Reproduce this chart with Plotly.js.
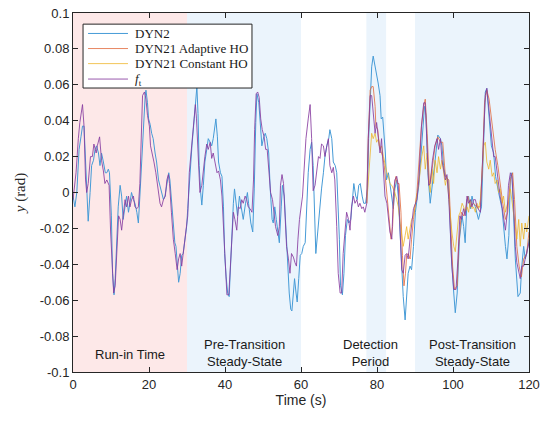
<!DOCTYPE html>
<html><head><meta charset="utf-8">
<script src="https://cdn.plot.ly/plotly-3.0.1.min.js"></script>
<style>body{margin:0;background:#fff}#plot{width:547px;height:423px}</style>
</head><body><div id="plot"></div>
<script>
// f_t (target)
const ftT = [0,0.8,1.4,1.8,2.5,2.9,3.3,3.6,4.0,4.6,5.1,5.5,6.1,6.4,7.0,7.5,8.0,8.4,8.9,9.5,9.9,10.4,10.7,11.1,11.6,12.0,12.4,12.8,13.2,13.7,14.1,14.6,15.0,15.4,15.9,16.3,16.8,17.2,17.6,18.0,18.3,18.8,19.2,19.6,20.1,20.4,20.8,21.3,21.8,22.2,22.5,22.9,23.3,23.8,24.3,24.7,25.1,25.4,25.9,26.4,26.9,27.4,27.8,28.2,28.6,29.0,29.5,29.9,
30.2,30.6,31.1,31.5,31.9,32.2,32.5,33.0,33.4,33.9,34.3,34.7,35.2,35.6,36.1,36.5,36.9,37.4,37.9,38.3,38.8,39.2,39.7,40.1,40.5,41.0,41.4,41.9,42.2,42.6,43.1,43.5,44.0,44.4,44.8,45.3,45.7,46.1,46.6,47.1,47.5,47.8,48.2,48.6,49.0,49.4,49.8,50.3,50.7,51.1,51.6,52.0,52.5,52.9,53.3,53.9,54.3,54.6,55.0,55.4,55.8,56.2,56.7,57.1,57.5,58.0,58.4,58.8,59.2,59.6,
60.4,60.8,61.3,61.9,62.4,62.8,63.2,63.7,64.1,64.6,65.0,65.4,65.9,66.3,66.8,67.2,67.6,68.1,68.5,68.9,69.4,69.8,70.3,70.7,71.1,71.6,72.0,72.5,72.9,73.3,73.8,74.2,74.7,75.1,75.5,76.0,76.4,76.8,77.3,77.7,78.2,78.6,79.0,79.5,79.9,80.4,80.8,81.2,81.7,82.1,82.6,83.0,83.4,83.9,84.3,84.7,85.2,85.6,86.1,86.5,86.9,87.4,87.8,88.2,88.7,89.6,
90.5,91.0,91.7,92.3,92.7,93.2,93.6,94.0,94.6,95.2,95.8,96.2,96.7,97.1,97.5,98.0,98.4,98.9,99.3,99.7,100.2,100.8,101.3,101.8,102.2,102.8,103.2,103.7,104.1,104.6,105.0,105.4,105.9,106.3,107.2,107.6,108.1,108.5,108.9,109.4,109.8,110.7,111.1,111.6,112.0,112.4,112.9,113.3,113.8,114.2,114.6,115.1,115.5,115.9,116.4,116.8,117.3,117.7,118.1,118.6,119.0,119.4,120.0];
const ftY = [-0.004,0.011,0.030,0.039,0.049,0.037,0.007,0.000,0.005,0.020,0.020,0.027,0.022,0.026,0.031,0.018,0.012,0.005,0.007,0.004,-0.022,-0.047,-0.056,-0.052,-0.026,-0.013,-0.015,-0.021,-0.013,-0.004,-0.008,-0.002,-0.008,-0.004,-0.002,-0.008,-0.009,-0.008,0.005,0.033,0.054,0.056,0.052,0.043,0.037,0.026,0.021,0.017,0.011,0.004,-0.002,-0.006,-0.008,-0.004,-0.002,0.007,0.010,0.005,-0.011,-0.026,-0.034,-0.043,-0.037,-0.034,-0.041,-0.034,-0.024,-0.015,
-0.013,0.011,0.024,0.033,0.043,0.049,0.041,0.015,0.000,0.004,0.013,0.020,0.027,0.024,0.028,0.019,0.022,0.017,0.011,0.012,0.007,-0.002,-0.026,-0.047,-0.057,-0.057,-0.041,-0.019,-0.011,-0.015,-0.021,-0.008,-0.009,-0.004,-0.006,-0.002,-0.004,-0.008,-0.009,-0.011,0.007,0.035,0.055,0.056,0.053,0.041,0.035,0.031,0.024,0.024,0.011,0.000,-0.004,-0.013,-0.019,-0.024,-0.019,0.004,0.010,0.005,-0.013,-0.030,-0.037,-0.045,-0.034,-0.036,-0.039,-0.041,-0.026,-0.015,
-0.002,0.011,0.030,0.041,0.049,0.030,0.001,0.004,0.011,0.020,0.019,0.027,0.026,0.020,0.026,0.030,0.015,0.011,0.014,0.007,-0.019,-0.045,-0.056,-0.056,-0.034,-0.019,-0.011,-0.015,-0.021,-0.008,-0.002,-0.006,-0.004,-0.008,-0.006,-0.009,-0.008,-0.011,-0.006,0.030,0.054,0.054,0.043,0.033,0.039,0.031,0.022,0.030,0.015,-0.002,-0.006,-0.015,-0.022,-0.026,-0.002,0.007,0.009,0.004,-0.021,-0.043,-0.045,-0.035,-0.034,-0.037,-0.026,-0.009,
-0.004,0.007,0.037,0.050,0.050,0.028,0.004,0.005,0.018,0.026,0.030,0.024,0.030,0.018,0.013,0.007,0.010,-0.004,-0.022,-0.041,-0.054,-0.054,-0.037,-0.013,-0.015,-0.009,-0.013,-0.002,-0.006,-0.004,-0.008,-0.004,-0.004,-0.008,-0.011,0.007,0.037,0.054,0.058,0.048,0.037,0.020,0.020,0.011,0.004,-0.002,-0.008,-0.013,-0.021,-0.013,0.004,0.011,0.009,-0.004,-0.030,-0.039,-0.045,-0.048,-0.041,-0.041,-0.037,-0.033,-0.028];

// DYN2
const dyn2T = [0,0.5,1.0,1.6,2.1,2.5,2.9,3.2,3.6,4.0,4.5,4.9,5.4,5.8,6.2,6.7,7.1,7.5,8.0,8.5,8.9,9.3,9.6,10.1,10.4,10.8,11.1,11.5,11.9,12.4,12.8,13.2,13.7,14.1,14.6,15.0,15.4,15.9,16.3,16.8,17.2,17.6,18.1,18.5,19.0,19.2,19.6,19.9,20.3,20.7,21.1,21.6,22.0,22.5,22.9,23.3,23.8,24.2,24.6,25.2,25.5,26.0,26.4,26.8,27.1,27.5,27.8,28.2,28.6,29.0,29.5,29.9,
30.2,30.8,31.3,31.9,32.4,32.6,32.9,33.2,33.6,33.9,34.3,34.7,35.2,35.6,36.1,36.5,36.9,37.4,37.6,38.0,38.3,38.8,39.2,39.6,39.9,40.3,40.7,41.1,41.5,41.9,42.2,42.5,42.9,43.3,43.8,44.2,44.8,45.4,45.9,46.2,46.8,47.3,47.7,48.1,48.4,48.9,49.3,49.7,50.2,50.6,51.0,51.5,51.9,52.4,52.7,53.1,53.5,54.0,54.3,54.8,55.1,55.6,56.0,56.4,56.9,57.3,57.6,58.0,58.3,58.7,59.0,59.4,59.8,
60.2,60.6,61.1,61.5,61.9,62.4,62.8,63.2,63.6,63.9,64.4,64.8,65.4,65.9,66.3,66.8,67.3,67.6,68.1,68.5,69.0,69.4,69.7,70.1,70.4,70.9,71.3,71.7,72.2,72.6,73.1,73.5,73.9,74.4,74.8,75.2,75.6,76.1,76.5,77.0,77.5,77.8,78.2,78.6,79.0,79.5,79.9,80.3,80.8,81.1,81.5,81.8,82.2,82.5,83.0,83.4,83.9,84.3,84.7,85.2,85.6,86.1,86.5,86.9,87.4,87.8,88.2,88.7,89.1,89.6,
90.1,91.0,91.8,92.5,92.9,93.4,94.0,94.6,95.3,96.0,96.7,97.1,97.5,98.0,98.7,99.0,99.6,100.2,100.6,101.1,101.7,102.4,102.8,103.2,103.7,104.1,104.6,105.0,105.4,105.9,106.7,107.5,108.1,108.5,108.9,109.4,110.1,110.7,111.2,112.0,112.9,113.8,114.2,114.7,115.1,115.5,115.9,116.4,117.1,117.7,118.1,118.6,119.0,119.4,120.0];
const dyn2Y = [-0.002,-0.008,0.000,0.024,0.031,0.037,0.037,0.022,-0.002,-0.016,0.000,0.015,0.018,0.024,0.026,0.022,0.015,0.022,0.017,0.011,0.011,0.013,0.011,-0.013,-0.045,-0.057,-0.048,-0.030,-0.008,0.004,-0.002,-0.015,-0.006,-0.002,-0.011,-0.004,0.000,-0.004,-0.006,-0.011,-0.017,-0.002,0.018,0.041,0.054,0.057,0.050,0.041,0.038,0.033,0.030,0.022,0.017,0.007,0.004,0.000,-0.004,-0.002,0.004,0.011,0.007,-0.008,-0.019,-0.028,-0.030,-0.045,-0.050,-0.045,-0.035,-0.034,-0.024,-0.019,
-0.009,0.011,0.026,0.041,0.054,0.059,0.044,0.015,0.000,-0.007,0.004,0.017,0.024,0.030,0.028,0.026,0.030,0.037,0.041,0.031,0.017,0.011,0.009,-0.008,-0.034,-0.047,-0.056,-0.058,-0.037,-0.019,-0.006,0.002,-0.006,-0.013,-0.002,-0.008,-0.015,-0.006,0.000,-0.006,-0.017,-0.022,0.002,0.039,0.055,0.050,0.035,0.026,0.031,0.033,0.030,0.022,0.002,-0.015,-0.017,-0.008,-0.015,-0.024,-0.028,-0.008,0.004,-0.002,-0.021,-0.041,-0.056,-0.065,-0.066,-0.056,-0.048,-0.056,-0.061,-0.048,-0.035,
-0.034,-0.030,-0.028,-0.008,0.011,0.024,0.028,0.015,-0.008,-0.034,-0.022,-0.011,0.002,0.011,0.020,0.026,0.030,0.035,0.030,0.017,0.015,0.011,-0.004,-0.026,-0.052,-0.057,-0.045,-0.024,-0.015,-0.017,-0.015,-0.002,0.005,-0.002,-0.004,0.004,0.005,-0.002,-0.006,-0.006,0.002,0.030,0.054,0.070,0.076,0.071,0.067,0.061,0.054,0.041,0.042,0.035,0.022,0.007,0.011,0.005,-0.002,-0.009,0.002,0.007,-0.002,-0.026,-0.045,-0.058,-0.071,-0.058,-0.045,-0.041,-0.043,-0.030,
-0.011,0.004,0.028,0.048,0.043,0.011,-0.006,0.004,0.018,0.032,0.030,0.026,0.015,0.009,0.007,-0.004,-0.037,-0.056,-0.067,-0.056,-0.026,-0.013,-0.019,-0.028,-0.004,-0.002,-0.009,-0.002,-0.006,-0.008,-0.015,-0.008,0.030,0.056,0.058,0.044,0.026,0.022,0.009,0.000,-0.009,-0.030,-0.037,-0.024,0.009,0.011,-0.009,-0.037,-0.058,-0.056,-0.041,-0.030,-0.037,-0.034,-0.026];

// DYN21 Adaptive HO
const adaT = [77.3,77.7,78.2,78.6,79.0,79.5,79.7,80.2,80.6,81.1,81.5,81.9,82.4,82.8,83.3,83.7,84.1,84.6,85.0,85.4,85.8,86.3,86.7,87.1,87.5,87.8,88.2,88.7,89.1,89.6,
90.5,91.1,91.7,92.3,92.7,93.2,93.8,94.5,95.3,96.0,96.7,97.3,98.0,98.9,99.3,99.9,100.4,101.1,101.5,102.2,102.8,103.4,103.9,104.6,105.4,106.3,107.2,107.8,108.3,108.9,109.5,110.3,111.1,111.8,112.5,113.1,113.8,114.4,115.1,115.7,116.2,116.8,117.4,118.0,118.6,119.4,120.0];
const adaY = [-0.006,0.030,0.057,0.059,0.059,0.048,0.037,0.035,0.026,0.022,0.020,0.015,0.004,-0.004,-0.017,-0.026,-0.019,0.004,0.009,0.005,0.005,-0.011,-0.035,-0.052,-0.045,-0.035,-0.034,-0.037,-0.026,-0.015,
0.000,0.017,0.037,0.048,0.052,0.033,0.004,0.013,0.026,0.031,0.028,0.028,0.009,0.007,-0.011,-0.041,-0.054,-0.052,-0.030,-0.011,-0.013,-0.009,-0.002,-0.008,-0.006,-0.008,-0.008,0.018,0.050,0.057,0.052,0.037,0.024,0.015,0.002,-0.006,-0.015,-0.011,0.007,0.011,-0.004,-0.030,-0.041,-0.047,-0.037,-0.034,-0.022];

// DYN21 Constant HO
const conT = [77.3,77.7,78.2,78.6,79.0,79.5,79.9,80.4,80.8,81.2,81.7,82.1,82.6,83.0,83.4,83.9,84.3,84.7,85.2,85.6,86.1,86.5,86.9,87.4,87.8,88.2,88.7,89.1,89.6,
90.1,91.0,91.8,92.3,92.7,93.2,93.6,94.0,94.5,94.9,95.3,95.8,96.2,96.7,97.1,97.5,98.0,98.4,98.9,99.3,99.7,100.2,100.6,101.1,101.5,101.9,102.4,102.8,103.2,103.7,104.1,104.6,105.0,105.4,105.9,106.3,106.7,107.2,107.6,108.1,108.5,108.9,109.4,109.8,110.3,110.7,111.1,111.6,112.0,112.4,112.9,113.3,113.8,114.2,114.6,115.1,115.5,115.9,116.4,116.8,117.3,117.7,118.1,118.6,119.0,119.4,120.0];
const conY = [-0.006,0.007,0.024,0.033,0.030,0.033,0.028,0.030,0.024,0.026,0.020,0.015,0.011,0.009,0.005,0.004,0.002,0.000,-0.004,-0.008,-0.017,-0.024,-0.030,-0.024,-0.019,-0.026,-0.019,-0.015,-0.013,
-0.006,0.005,0.020,0.026,0.013,0.022,0.007,0.000,0.013,0.005,0.018,0.011,0.020,0.013,0.018,0.011,0.004,0.009,-0.004,-0.011,-0.022,-0.030,-0.033,-0.022,-0.013,-0.011,-0.006,-0.008,-0.011,-0.008,-0.011,-0.004,-0.009,-0.008,-0.011,-0.006,-0.009,-0.004,0.013,0.026,0.028,0.017,0.013,0.018,0.009,0.011,0.005,0.007,0.000,0.002,-0.006,-0.002,-0.011,-0.008,-0.004,0.002,-0.004,-0.009,-0.019,-0.026,-0.015,-0.030,-0.017,-0.026,-0.017,-0.022,-0.013];

// Series names and colours
const seriesNames = ['DYN2', 'DYN21 Adaptive HO', 'DYN21 Constant HO', '<i>f</i><sub>t</sub>'];
const seriesColors = ['rgb(70,155,215)', 'rgba(225,105,60,0.8)', 'rgba(237,177,32,0.75)', 'rgba(135,60,160,0.85)'];

// Shaded periods
const periodStart = [0, 30, 77.2, 90];
const periodEnd   = [30, 60, 82.4, 120];
const periodFill  = ['rgb(253,232,232)','rgb(235,244,252)','rgb(235,244,252)','rgb(235,244,252)'];
const periodLabels = ['Run-in Time','Pre-Transition<br>Steady-State','Detection<br>Period','Post-Transition<br>Steady-State'];
const labelX = [15, 45, 78.4, 105];

const yTicks = [-0.1,-0.08,-0.06,-0.04,-0.02,0,0.02,0.04,0.06,0.08,0.1];
const yTickText = ['-0.1','-0.08','-0.06','-0.04','-0.02','0','0.02','0.04','0.06','0.08','0.1'];
const xTicks = [0,20,40,60,80,100,120];

const xs = [dyn2T, adaT, conT, ftT];
const ys = [dyn2Y, adaY, conY, ftY];
const traces = xs.map((x, i) => ({
  x: x, y: ys[i], name: seriesNames[i], mode: 'lines', showlegend: false,
  line: {color: seriesColors[i], width: 1}
}));

const shapes = periodStart.map((s, i) => ({
  type: 'rect', xref: 'x', yref: 'paper', x0: s, x1: periodEnd[i], y0: 0, y1: 1,
  fillcolor: periodFill[i], line: {width: 0}, layer: 'below'
}));

// Legend box (drawn manually for MATLAB-like compact spacing)
const legRowY = [0.943, 0.901, 0.859, 0.816];
shapes.push({type: 'rect', xref: 'paper', yref: 'paper', x0: 0.022, x1: 0.3925, y0: 0.791, y1: 0.969,
  fillcolor: '#ffffff', line: {color: '#262626', width: 1}, layer: 'above'});
legRowY.forEach((yy, i) => shapes.push({type: 'line', xref: 'paper', yref: 'paper', x0: 0.033, x1: 0.1206, y0: yy, y1: yy,
  line: {color: seriesColors[i], width: 1}, layer: 'above'}));

const annotations = periodLabels.map((t, i) => ({
  x: labelX[i], y: i === 0 ? -0.0905 : -0.0893, xref: 'x', yref: 'y', text: t, showarrow: false,
  font: {family: 'Liberation Sans, Arial, sans-serif', size: 13, color: '#1a1a1a'}, align: 'center'
}));
legRowY.forEach((yy, i) => annotations.push({x: 0.1316, y: yy, xref: 'paper', yref: 'paper', xanchor: 'left', yanchor: 'middle',
  text: seriesNames[i], showarrow: false, font: {family: 'Liberation Serif, Times New Roman, serif', size: 13, color: '#1a1a1a'}}));

const axisCommon = {
  showgrid: false, zeroline: false, showline: true, mirror: 'ticks', linecolor: '#262626', linewidth: 1,
  ticks: 'inside', ticklen: 5, tickcolor: '#262626',
  tickfont: {family: 'Liberation Sans, Arial, sans-serif', size: 13, color: '#262626'}
};

const layout = {
  width: 547, height: 423,
  margin: {l: 73, r: 18, t: 13, b: 51},
  paper_bgcolor: '#fff', plot_bgcolor: '#fff',
  showlegend: false,
  xaxis: Object.assign({}, axisCommon, {range: [0, 120], tickvals: xTicks,
    title: {text: 'Time (s)', font: {family: 'Liberation Sans, Arial, sans-serif', size: 14, color: '#262626'}, standoff: 2}}),
  yaxis: Object.assign({}, axisCommon, {range: [-0.1, 0.1], tickvals: yTicks, ticktext: yTickText,
    title: {text: '<i>y</i> (rad)', font: {family: 'Liberation Serif, Times New Roman, serif', size: 15, color: '#262626'}, standoff: 10}}),
  shapes: shapes, annotations: annotations
};

Plotly.newPlot('plot', traces, layout, {displayModeBar: false, staticPlot: true});
</script></body></html>
